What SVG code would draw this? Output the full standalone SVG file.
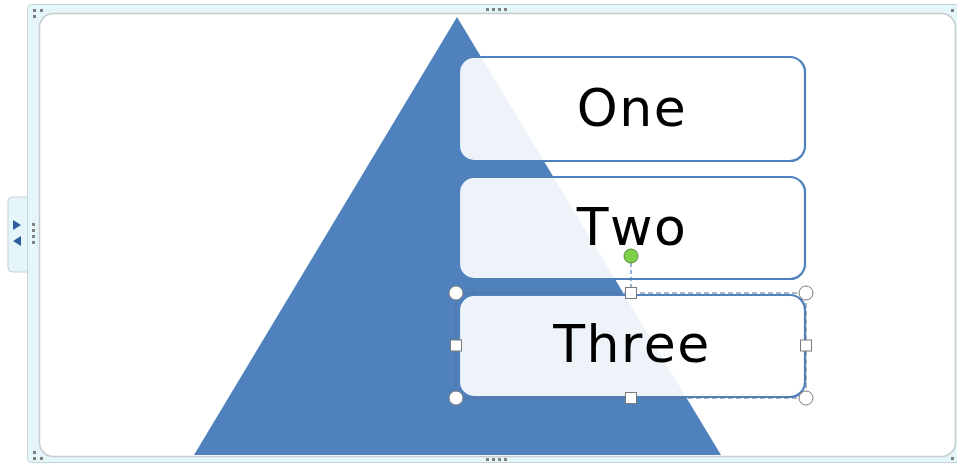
<svg xmlns="http://www.w3.org/2000/svg" width="957" height="464" viewBox="0 0 957 464">
<defs>
<style>
.box{fill:#ffffff;fill-opacity:0.9;stroke:#4F81BD;stroke-width:2.2}
.lbl{font-family:"DejaVu Sans",Verdana,sans-serif;font-size:52px;fill:#000000;text-anchor:middle;font-kerning:none;letter-spacing:1.5px}
.dot{fill:#808080}
.h{fill:#ffffff;stroke:#7a7a7a;stroke-width:1}
</style>
</defs>
<rect width="957" height="464" fill="#ffffff"/>
<g id="frame">
<rect x="27.5" y="4.5" width="935" height="458" rx="4" fill="#E4F6FA" stroke="#C9D3D8" stroke-width="1"/>
<rect x="39.5" y="13.5" width="916" height="443" rx="14" fill="#ffffff" stroke="#C8CCCE" stroke-width="1.5"/>
<path d="M27,197 L12,197 Q8,197 8,201 L8,268 Q8,272 12,272 L27,272" fill="#E4F6FA" stroke="#C9D3D8" stroke-width="1"/>
<polygon points="13,220 21,225 13,230" fill="#2F5E9E"/>
<polygon points="21,236 13,241 21,246" fill="#2F5E9E"/>
<g class="dot">
<rect x="32" y="223" width="3" height="3"/><rect x="32" y="229" width="3" height="3"/><rect x="32" y="235" width="3" height="3"/><rect x="32" y="241" width="3" height="3"/>
<rect x="486" y="8" width="3" height="3"/><rect x="492" y="8" width="3" height="3"/><rect x="498" y="8" width="3" height="3"/><rect x="504" y="8" width="3" height="3"/>
<rect x="486" y="458" width="3" height="3"/><rect x="492" y="458" width="3" height="3"/><rect x="498" y="458" width="3" height="3"/><rect x="504" y="458" width="3" height="3"/>
<rect x="33" y="9" width="3" height="3"/><rect x="40" y="9" width="3" height="3"/><rect x="33" y="15" width="3" height="3"/>
<rect x="33" y="451" width="3" height="3"/><rect x="33" y="457" width="3" height="3"/><rect x="40" y="457" width="3" height="3"/>
<rect x="951" y="9" width="3" height="3"/>
<rect x="951" y="457" width="3" height="3"/>
</g>
</g>
<g id="pyramid">
<polygon points="457,17 721,455 194,455" fill="#4F81BD"/>
</g>
<g id="connectors"></g>
<g id="one">
<rect class="box" x="459" y="57" width="346" height="104" rx="15"/>
<text class="lbl" x="632" y="126">One</text>
</g>
<g id="two">
<rect class="box" x="459" y="177" width="346" height="102" rx="15"/>
<text class="lbl" x="632" y="245">Two</text>
</g>
<g id="three">
<rect class="box" x="459" y="295" width="346" height="102" rx="15"/>
<text class="lbl" x="632" y="362">Three</text>
</g>
<g id="selection">
<rect x="456" y="293" width="350" height="105" fill="none" stroke="#5a6f8a" stroke-width="1" stroke-dasharray="5,3"/>
<line x1="631" y1="263" x2="631" y2="288" stroke="#4F81BD" stroke-width="1.2" stroke-dasharray="4,3"/>
<circle cx="631" cy="256" r="7" fill="#7ED04B" stroke="#5a8a3a" stroke-width="1"/>
<circle class="h" cx="456" cy="293" r="7"/>
<circle class="h" cx="806" cy="293" r="7"/>
<circle class="h" cx="456" cy="398" r="7"/>
<circle class="h" cx="806" cy="398" r="7"/>
<rect class="h" x="625.5" y="287.5" width="11" height="11"/>
<rect class="h" x="625.5" y="392.5" width="11" height="11"/>
<rect class="h" x="450.5" y="340" width="11" height="11"/>
<rect class="h" x="800.5" y="340" width="11" height="11"/>
</g>
</svg>
